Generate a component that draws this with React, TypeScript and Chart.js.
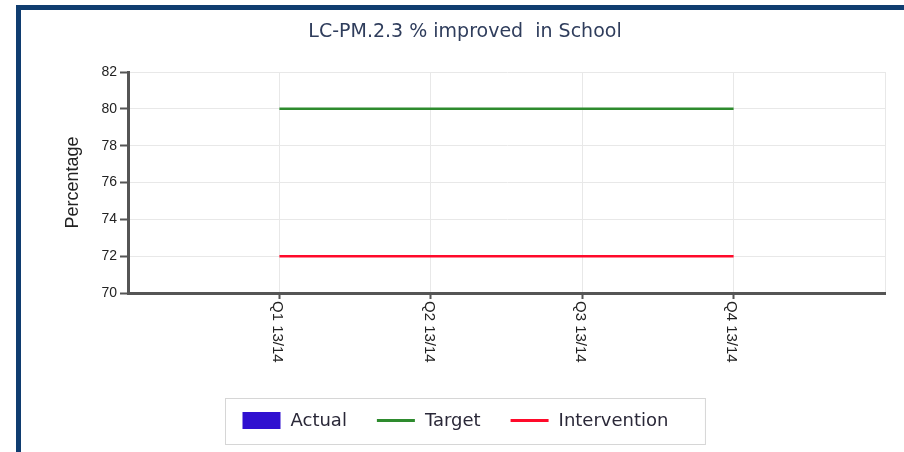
import React, { useEffect, useRef } from "react";
import { Chart, registerables } from "chart.js";

Chart.register(...registerables);

const chartTitle = "LC-PM.2.3 % improved  in School";
const yAxisTitle = "Percentage";
const categories = ["Q1 13/14", "Q2 13/14", "Q3 13/14", "Q4 13/14"];
const actualValues: (number | null)[] = [null, null, null, null];
const targetValues = [80, 80, 80, 80];
const interventionValues = [72, 72, 72, 72];
const yMin = 70;
const yMax = 82;
const yStep = 2;

const seriesNames = ["Actual", "Target", "Intervention"];
const seriesColors = ["#3010d0", "#2e8b2e", "#ff0a2a"];

// pad an empty slot at each end so the quarters sit inside the plot
const labels = ["", ...categories, ""];
const pad = (arr: (number | null)[]) => [null, ...arr, null];

const W = 904;
const H = 452;

const customDraw = {
  id: "customDraw",
  afterDraw(chart: any) {
    const ctx = chart.ctx as CanvasRenderingContext2D;
    const xs = chart.scales.x;
    // rotated x tick labels, reading top to bottom
    ctx.save();
    ctx.font = "15px 'Liberation Sans', Arial, sans-serif";
    ctx.fillStyle = "#222";
    ctx.textAlign = "left";
    ctx.textBaseline = "middle";
    const lbls: string[] = chart.data.labels;
    lbls.forEach((l, i) => {
      if (!l) return;
      const x = xs.getPixelForTick(i);
      ctx.save();
      ctx.translate(x - 2, chart.chartArea.bottom + 8);
      ctx.rotate(Math.PI / 2);
      ctx.fillText(l, 0, 0);
      ctx.restore();
    });
    ctx.restore();

    // legend in a bordered box
    ctx.save();
    ctx.font = "18px 'DejaVu Sans', sans-serif";
    const sw = 38;
    const gap = 10;
    const spacing = 30;
    const padL = 17;
    const padR = 37;
    const items = chart.data.datasets.map((d: any) => ({
      label: d.label,
      color: d.borderColor,
      type: d.type,
      w: ctx.measureText(d.label).width,
    }));
    const content =
      items.reduce((s: number, it: any) => s + sw + gap + it.w, 0) +
      spacing * (items.length - 1);
    const boxW = padL + content + padR;
    const boxH = 46;
    const cx = 465;
    const boxX = Math.round(cx - boxW / 2) + 0.5;
    const boxY = H - 54 + 0.5;
    ctx.strokeStyle = "#d6d6d6";
    ctx.lineWidth = 1;
    ctx.strokeRect(boxX, boxY, boxW, boxH);
    const cy = boxY + boxH / 2 - 1;
    let x = boxX + padL;
    ctx.textBaseline = "middle";
    ctx.textAlign = "left";
    items.forEach((it: any) => {
      if (it.type === "bar") {
        ctx.fillStyle = it.color;
        ctx.fillRect(x, cy - 8.5, sw, 17);
      } else {
        ctx.strokeStyle = it.color;
        ctx.lineWidth = 3;
        ctx.beginPath();
        ctx.moveTo(x, cy);
        ctx.lineTo(x + sw, cy);
        ctx.stroke();
      }
      ctx.fillStyle = "#2a2838";
      ctx.fillText(it.label, x + sw + gap, cy + 1);
      x += sw + gap + it.w + spacing;
    });
    ctx.restore();
  },
};

export default function App() {
  const ref = useRef<HTMLCanvasElement>(null);
  useEffect(() => {
    if (!ref.current) return;
    const chart = new Chart(ref.current, {
      type: "bar",
      data: {
        labels,
        datasets: [
          {
            type: "bar",
            label: seriesNames[0],
            data: pad(actualValues),
            backgroundColor: seriesColors[0],
            borderColor: seriesColors[0],
          },
          {
            type: "line",
            label: seriesNames[1],
            data: pad(targetValues),
            borderColor: seriesColors[1],
            backgroundColor: seriesColors[1],
            borderWidth: 2.5,
            pointRadius: 0,
            fill: false,
          },
          {
            type: "line",
            label: seriesNames[2],
            data: pad(interventionValues),
            borderColor: seriesColors[2],
            backgroundColor: seriesColors[2],
            borderWidth: 2.5,
            pointRadius: 0,
            fill: false,
          },
        ] as any,
      },
      options: {
        animation: false,
        responsive: false,
        devicePixelRatio: 1,
        layout: { padding: { left: 45, right: 19, top: 0, bottom: 0 } },
        plugins: {
          legend: { display: false },
          tooltip: { enabled: false },
          title: {
            display: true,
            text: chartTitle,
            color: "#2f3d5c",
            font: { family: "'DejaVu Sans', sans-serif", size: 19, weight: "normal" as any },
            padding: { top: 20.6, bottom: 28.6 },
          },
        },
        scales: {
          x: {
            type: "category",
            offset: false,
            grid: {
              offset: false,
              color: "#e8e8e8",
              tickLength: 6,
              tickWidth: 2,
              tickColor: (c: any) =>
                c.index === 0 || c.index === labels.length - 1 ? "rgba(0,0,0,0)" : "#555",
            },
            border: { color: "#555", width: 3 },
            ticks: { display: false, autoSkip: false },
            afterFit: (s: any) => {
              s.height = 159;
            },
          },
          y: {
            min: yMin,
            max: yMax,
            grid: { color: "#e8e8e8", tickLength: 8, tickWidth: 2, tickColor: "#555" },
            border: { color: "#555", width: 3 },
            ticks: {
              stepSize: yStep,
              padding: 3,
              color: "#222",
              font: { family: "'Liberation Sans', Arial, sans-serif", size: 14 },
            },
            title: {
              display: true,
              text: yAxisTitle,
              color: "#222",
              font: { family: "'Liberation Sans', Arial, sans-serif", size: 18 },
              padding: { top: 17, bottom: 0 },
            },
            afterFit: (s: any) => {
              s.width = 83;
            },
          },
        },
      },
      plugins: [customDraw],
    });
    return () => chart.destroy();
  }, []);
  return (
    <div style={{ position: "fixed", left: 0, top: 0, width: W, height: H, background: "#fff" }}>
      <canvas ref={ref} width={W} height={H} style={{ position: "absolute", left: 0, top: 0 }} />
      <div
        style={{
          position: "absolute",
          left: 16,
          top: 5,
          width: 900,
          height: 460,
          borderTop: "5px solid #103d70",
          borderLeft: "5px solid #103d70",
          pointerEvents: "none",
        }}
      />
    </div>
  );
}
